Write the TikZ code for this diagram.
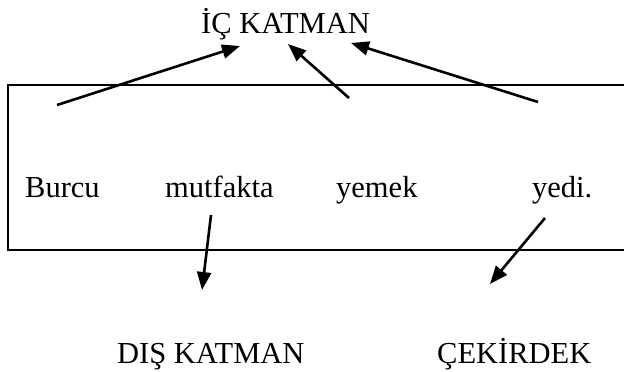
\documentclass[tikz,border=0pt]{standalone}
\usepackage{fontspec}
\setmainfont{Liberation Serif}
\usetikzlibrary{arrows.meta}
\begin{document}
\begin{tikzpicture}[x=1pt,y=-1pt,
  lbl/.style={anchor=base west,inner sep=0pt,font=\fontsize{30.5}{34}\selectfont},
  arr/.style={line width=2.6pt,-{Triangle[length=18pt,width=14pt]}}]
\useasboundingbox (0,0) rectangle (624,372);
\draw[line width=2.4pt] (630,85) -- (8,85) -- (8,250) -- (630,250);
\node[lbl] (ic) at (201,33) {İÇ KATMAN};
\node[lbl] (w1) at (25,197) {Burcu};
\node[lbl] (w2) at (165,197) {mutfakta};
\node[lbl] (w3) at (336,197) {yemek};
\node[lbl] (w4) at (532,197) {yedi.};
\node[lbl] (dis) at (117,363) {DIŞ KATMAN};
\node[lbl] (cek) at (437,363) {ÇEKİRDEK};
\coordinate (s1) at (57,105);   \coordinate (t1) at (240,46);
\coordinate (s2) at (349,98);   \coordinate (t2) at (288,44);
\coordinate (s3) at (538,102);  \coordinate (t3) at (351,43);
\coordinate (s4) at (211,215);  \coordinate (t4) at (202,290);
\coordinate (s5) at (545,218);  \coordinate (t5) at (490,284);
\draw[arr] (s1) -- (t1);
\draw[arr] (s2) -- (t2);
\draw[arr] (s3) -- (t3);
\draw[arr] (s4) -- (t4);
\draw[arr] (s5) -- (t5);
\end{tikzpicture}
\end{document}
